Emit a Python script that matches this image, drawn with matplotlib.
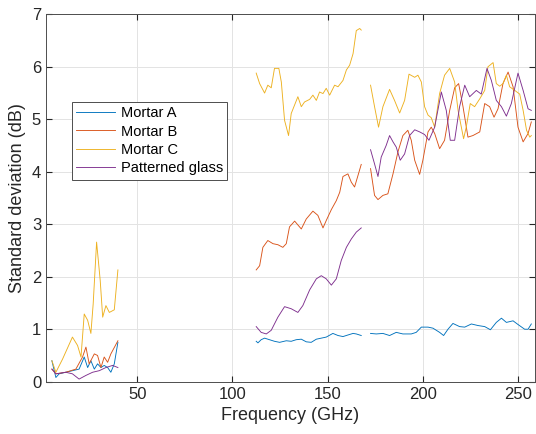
import matplotlib
matplotlib.use("Agg")
import matplotlib.pyplot as plt
import numpy as np

plt.rcParams['font.family'] = ['Liberation Sans', 'DejaVu Sans']

# --- band 1 (about 5-40 GHz) ---
f1_c = [5.1, 7.2, 10.7, 15.9, 18.6, 20.4, 22.1, 23.9, 25.6, 26.8, 28.6, 30.5, 31.8, 33.5, 35.3, 37.9, 39.8]
c1 = [0.40, 0.18, 0.43, 0.85, 0.69, 0.47, 1.29, 1.17, 0.92, 1.48, 2.66, 1.93, 1.23, 1.45, 1.32, 1.37, 2.13]

f1_b = [5.1, 7.2, 12.4, 17.7, 21.2, 23.0, 24.7, 27.4, 29.1, 30.9, 32.6, 34.4, 36.1, 39.8]
b1 = [0.24, 0.15, 0.18, 0.24, 0.47, 0.66, 0.34, 0.53, 0.50, 0.27, 0.47, 0.37, 0.53, 0.78]

f1_a = [5.1, 7.2, 8.9, 12.4, 15.9, 19.4, 22.1, 23.9, 25.6, 27.4, 29.1, 30.9, 32.6, 34.4, 36.1, 37.9, 39.8]
a1 = [0.40, 0.08, 0.15, 0.18, 0.21, 0.24, 0.47, 0.27, 0.40, 0.24, 0.34, 0.27, 0.31, 0.27, 0.18, 0.34, 0.75]

f1_g = [5.1, 7.2, 12.4, 15.9, 19.4, 23.0, 26.5, 30.0, 33.5, 37.0, 39.8]
g1 = [0.24, 0.15, 0.18, 0.15, 0.05, 0.12, 0.18, 0.21, 0.27, 0.31, 0.27]

# --- band 2 (about 112-168 GHz) ---
f2_c = [112.5, 114.3, 116.9, 118.6, 120.4, 122.1, 124.4, 125.7, 127.4, 129.5, 130.9, 134.4, 136.2,
        137.9, 140.6, 142.3, 144.1, 145.8, 147.6, 149.3, 151.1, 153.7, 155.5, 158.1, 159.9, 161.6,
        163.4, 165.1, 166.9, 167.7]
c2 = [5.88, 5.68, 5.50, 5.65, 5.60, 5.97, 5.97, 5.71, 4.98, 4.69, 5.11, 5.43, 5.24,
      5.33, 5.38, 5.46, 5.36, 5.52, 5.49, 5.59, 5.46, 5.65, 5.62, 5.74, 5.94, 6.03,
      6.25, 6.69, 6.73, 6.70]

f2_b = [112.5, 114.3, 116.0, 118.6, 121.3, 123.9, 126.5, 128.3, 130.0, 132.7, 136.2, 138.8, 142.3,
        144.9, 147.6, 149.3, 152.0, 154.6, 156.4, 158.1, 160.7, 162.5, 164.2, 166.0, 167.7]
b2 = [2.13, 2.21, 2.56, 2.69, 2.63, 2.61, 2.56, 2.63, 2.95, 3.06, 2.91, 3.10, 3.25,
      3.17, 2.93, 3.07, 3.28, 3.45, 3.61, 3.91, 3.96, 3.80, 3.71, 3.93, 4.14]

f2_g = [112.5, 115.1, 117.8, 120.4, 123.9, 127.4, 130.9, 134.4, 137.0, 140.6, 144.1, 146.7,
        149.3, 152.0, 154.6, 157.2, 159.9, 162.5, 165.1, 167.7]
g2 = [1.05, 0.94, 0.91, 0.98, 1.23, 1.43, 1.39, 1.32, 1.45, 1.75, 1.96, 2.02,
      1.96, 1.84, 1.96, 2.31, 2.56, 2.72, 2.85, 2.93]

f2_a = [112.5, 113.4, 115.1, 116.9, 119.5, 122.1, 124.8, 128.3, 130.9, 133.5, 136.2, 138.8,
        141.4, 144.1, 146.7, 149.3, 152.8, 155.5, 158.1, 160.7, 163.4, 165.1, 167.7]
a2 = [0.77, 0.74, 0.80, 0.83, 0.80, 0.77, 0.75, 0.78, 0.77, 0.80, 0.81, 0.76,
      0.75, 0.81, 0.83, 0.85, 0.92, 0.88, 0.86, 0.89, 0.92, 0.91, 0.88]

# --- band 3 (about 172-258 GHz) ---
f3_c = [172.6, 174.7, 176.8, 179.1, 182.6, 185.2, 187.9, 190.5, 192.8, 195.8, 197.5, 199.3,
        201.0, 202.8, 204.5, 206.3, 208.9, 211.5, 214.2, 216.8, 218.6, 221.5, 222.9, 225.0,
        227.3, 230.0, 232.6, 234.3, 237.0, 238.7, 240.5, 242.2, 244.0, 245.7, 248.4, 251.0,
        252.8, 254.6, 256.3, 257.1]
c3 = [5.65, 5.24, 4.85, 5.24, 5.57, 5.36, 5.12, 5.36, 5.86, 5.80, 5.84, 5.71,
      5.24, 5.08, 5.03, 4.85, 5.49, 5.84, 5.97, 5.71, 5.17, 4.63, 4.85, 5.30,
      5.24, 5.39, 5.55, 6.00, 6.08, 5.68, 5.63, 5.68, 5.84, 5.62, 5.55, 5.48,
      5.17, 4.79, 4.66, 4.69]

f3_b = [172.6, 174.7, 176.5, 179.1, 181.7, 184.4, 187.0, 189.6, 192.2, 194.0, 195.8, 198.4,
        200.1, 202.8, 204.5, 206.3, 208.9, 211.5, 214.2, 216.8, 218.9, 221.2, 223.8, 226.4,
        230.0, 232.6, 235.2, 237.5, 239.6, 242.2, 244.9, 247.5, 250.1, 252.8, 255.4, 257.1]
b3 = [4.06, 3.55, 3.47, 3.55, 3.58, 3.96, 4.38, 4.69, 4.79, 4.60, 4.22, 3.95,
      4.22, 4.76, 4.85, 4.73, 4.44, 4.60, 5.17, 5.60, 5.68, 5.24, 4.66, 4.69,
      4.76, 5.30, 5.24, 5.04, 5.20, 5.68, 5.90, 5.62, 4.85, 4.57, 4.73, 4.95]

f3_g = [172.6, 174.7, 176.5, 178.2, 180.8, 182.6, 184.4, 186.1, 188.2, 190.5, 193.1, 195.8,
        198.4, 201.0, 203.3, 206.3, 209.8, 212.4, 214.5, 216.8, 219.4, 222.1, 224.7, 228.2,
        230.8, 233.8, 236.1, 238.7, 241.4, 244.0, 246.6, 250.1, 252.8, 255.4, 257.1]
g3 = [4.42, 4.15, 3.91, 4.28, 4.50, 4.69, 4.57, 4.47, 4.22, 4.34, 4.69, 4.80,
      4.76, 4.71, 4.60, 4.85, 5.52, 5.17, 4.60, 4.60, 5.24, 5.65, 5.43, 5.55,
      5.48, 5.97, 5.74, 5.36, 5.24, 5.06, 5.30, 5.88, 5.55, 5.20, 5.17]

f3_a = [172.6, 175.6, 179.1, 182.6, 186.1, 189.6, 194.0, 196.6, 199.3, 202.8, 205.4, 208.9,
        211.0, 213.3, 215.9, 219.4, 222.1, 225.6, 229.1, 232.6, 235.6, 238.7, 241.4, 244.0,
        247.5, 250.1, 253.6, 255.4, 257.1]
a3 = [0.92, 0.91, 0.92, 0.88, 0.94, 0.91, 0.91, 0.94, 1.04, 1.04, 1.02, 0.94,
      0.88, 1.00, 1.11, 1.05, 1.04, 1.10, 1.07, 1.05, 0.99, 1.13, 1.21, 1.13,
      1.16, 1.09, 1.00, 1.00, 1.10]

names = ['Mortar A', 'Mortar B', 'Mortar C', 'Patterned glass']
colors = ['#0072BD', '#D95319', '#EDB120', '#7E2F8E']

fig = plt.figure(figsize=(5.36, 4.34), dpi=100)
ax = fig.add_axes([0.0858, 0.1205, 0.9122, 0.8465])

series = [
    [(f1_a, a1), (f2_a, a2), (f3_a, a3)],
    [(f1_b, b1), (f2_b, b2), (f3_b, b3)],
    [(f1_c, c1), (f2_c, c2), (f3_c, c3)],
    [(f1_g, g1), (f2_g, g2), (f3_g, g3)],
]
for name, col, parts in zip(names, colors, series):
    for k, (fx, fy) in enumerate(parts):
        ax.plot(fx, fy, color=col, lw=0.65, label=name if k == 0 else None)

ax.set_xlim(2, 259)
ax.set_ylim(0, 7)
ax.set_xticks([50, 100, 150, 200, 250])
ax.set_yticks(range(8))
ax.grid(True, color='#e3e3e3', lw=0.7)
ax.set_axisbelow(True)
ax.tick_params(direction='in', top=True, right=True, labelsize=12, colors='#262626', length=4)
for s in ax.spines.values():
    s.set_color('#4d4d4d')
    s.set_linewidth(0.7)
ax.set_xlabel('Frequency (GHz)', fontsize=13, color='#262626')
ax.set_ylabel('Standard deviation (dB)', fontsize=13, color='#262626')

leg = ax.legend(loc='upper left', bbox_to_anchor=(0.0526, 0.762), borderaxespad=0,
                fontsize=10.5, labelspacing=0.3, handlelength=2.7, handletextpad=0.35,
                borderpad=0.3, fancybox=False, framealpha=1, edgecolor='#4d4d4d')
leg.get_frame().set_linewidth(0.7)

fig.savefig('out.png', dpi=100)
